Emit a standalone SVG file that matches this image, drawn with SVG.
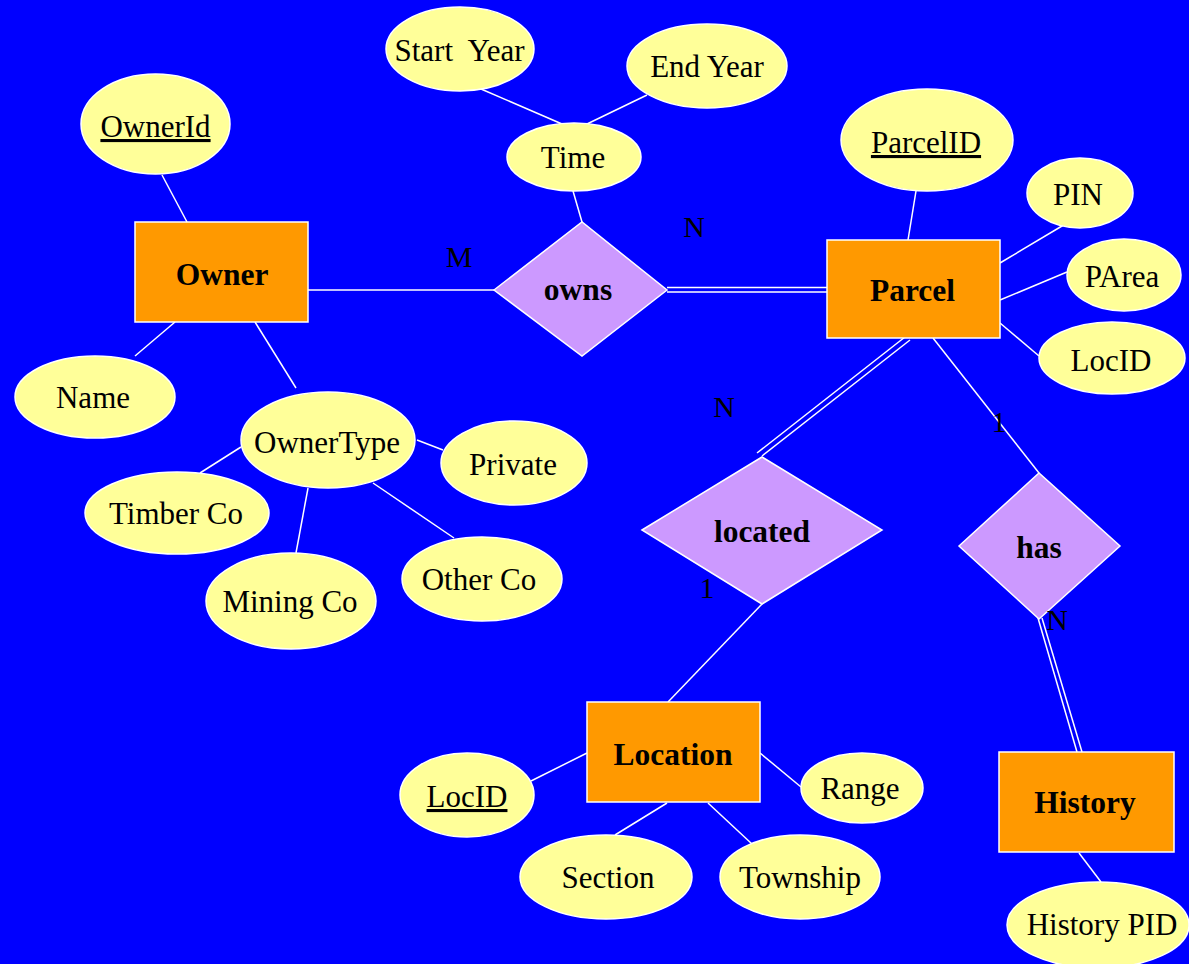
<svg xmlns="http://www.w3.org/2000/svg" width="1189" height="964" viewBox="0 0 1189 964">
<style>
.bg{fill:#0000FF}
.attr{fill:#FFFF99;stroke:#FFFFFF;stroke-width:1.5}
.ent{fill:#FF9900;stroke:#FFFFFF;stroke-width:1.5}
.rel{fill:#CC99FF;stroke:#FFFFFF;stroke-width:1.5}
.ln{stroke:#FFFFFF;stroke-width:1.5;fill:none}
text{font-family:"Liberation Serif","Times New Roman",serif;fill:#000000;text-anchor:middle}
.t{font-size:31px}
.b{font-size:31.5px;font-weight:bold}
.card{font-size:30px}
.u{text-decoration:underline}
</style>
<rect class="bg" x="0" y="0" width="1189" height="964"/>
<g id="connectors">
<line class="ln" x1="162" y1="175" x2="187" y2="222"/>
<line class="ln" x1="308" y1="290" x2="494" y2="290"/>
<line class="ln" x1="481" y1="89" x2="562" y2="124"/>
<line class="ln" x1="647" y1="95" x2="587" y2="124"/>
<line class="ln" x1="573" y1="191" x2="582" y2="222"/>
<line class="ln" x1="667" y1="287.5" x2="827" y2="287.5"/>
<line class="ln" x1="667" y1="292" x2="827" y2="292"/>
<line class="ln" x1="916" y1="191" x2="908" y2="240"/>
<line class="ln" x1="1067" y1="223" x2="1000" y2="263"/>
<line class="ln" x1="1067" y1="272" x2="1000" y2="300"/>
<line class="ln" x1="1000" y1="323" x2="1039" y2="356"/>
<line class="ln" x1="905" y1="337" x2="757" y2="453"/>
<line class="ln" x1="910" y1="340" x2="762" y2="456"/>
<line class="ln" x1="933" y1="338" x2="1039" y2="473"/>
<line class="ln" x1="762" y1="604" x2="668" y2="702"/>
<line class="ln" x1="1038" y1="618" x2="1077" y2="752"/>
<line class="ln" x1="1042" y1="618" x2="1082" y2="752"/>
<line class="ln" x1="1079" y1="853" x2="1101" y2="882"/>
<line class="ln" x1="531" y1="781" x2="587" y2="753"/>
<line class="ln" x1="760" y1="753" x2="801" y2="787"/>
<line class="ln" x1="667" y1="803" x2="615" y2="835"/>
<line class="ln" x1="708" y1="803" x2="752" y2="844"/>
<line class="ln" x1="175" y1="322" x2="135" y2="356"/>
<line class="ln" x1="255" y1="322" x2="296" y2="388"/>
<line class="ln" x1="200" y1="473" x2="241" y2="447"/>
<line class="ln" x1="417" y1="440" x2="443" y2="450"/>
<line class="ln" x1="308" y1="488" x2="296" y2="553"/>
<line class="ln" x1="373" y1="483" x2="454" y2="538"/>
</g>
<g id="owner"><rect class="ent" x="135" y="222" width="173" height="100"/><text class="b" x="222" y="285">Owner</text></g>
<g id="ownerid"><ellipse class="attr" cx="155.5" cy="124" rx="74.5" ry="50"/><text class="t u" x="155.5" y="137">OwnerId</text></g>
<g id="name"><ellipse class="attr" cx="95" cy="397" rx="80" ry="41"/><text class="t" x="93" y="408">Name</text></g>
<g id="ownertype"><ellipse class="attr" cx="328" cy="440" rx="87" ry="48"/><text class="t" x="327" y="453">OwnerType</text></g>
<g id="timberco"><ellipse class="attr" cx="177" cy="513" rx="92" ry="41"/><text class="t" x="176" y="524">Timber Co</text></g>
<g id="miningco"><ellipse class="attr" cx="291" cy="601" rx="85" ry="48"/><text class="t" x="290" y="612">Mining Co</text></g>
<g id="otherco"><ellipse class="attr" cx="482" cy="579" rx="80" ry="42"/><text class="t" x="479" y="590">Other Co</text></g>
<g id="private"><ellipse class="attr" cx="514" cy="463" rx="73" ry="42"/><text class="t" x="513" y="475">Private</text></g>
<g id="startyear"><ellipse class="attr" cx="460" cy="49" rx="74" ry="42"/><text class="t" x="459.5" y="61" xml:space="preserve">Start  Year</text></g>
<g id="endyear"><ellipse class="attr" cx="707" cy="66" rx="80" ry="42"/><text class="t" x="707" y="77">End Year</text></g>
<g id="time"><ellipse class="attr" cx="574" cy="157" rx="67" ry="34"/><text class="t" x="573" y="168">Time</text></g>
<g id="owns"><polygon class="rel" points="494,290 582,222 667,290 582,356"/><text class="b" x="578" y="300">owns</text></g>
<g id="parcel"><rect class="ent" x="827" y="240" width="173" height="98"/><text class="b" x="912.5" y="301">Parcel</text></g>
<g id="parcelid"><ellipse class="attr" cx="927" cy="140" rx="86" ry="51"/><text class="t u" x="926" y="153">ParcelID</text></g>
<g id="pin"><ellipse class="attr" cx="1080" cy="193" rx="53" ry="35"/><text class="t" x="1078" y="205">PIN</text></g>
<g id="parea"><ellipse class="attr" cx="1124" cy="275" rx="57" ry="36"/><text class="t" x="1122" y="287">PArea</text></g>
<g id="parcel-locid"><ellipse class="attr" cx="1112" cy="358" rx="73" ry="36"/><text class="t" x="1111" y="371">LocID</text></g>
<g id="located"><polygon class="rel" points="642,530 762,457 882,530 762,604"/><text class="b" x="762" y="542">located</text></g>
<g id="has"><polygon class="rel" points="959,546 1039,473 1120,546 1039,619"/><text class="b" x="1039" y="558">has</text></g>
<g id="location"><rect class="ent" x="587" y="702" width="173" height="100"/><text class="b" x="673" y="765">Location</text></g>
<g id="location-locid"><ellipse class="attr" cx="467" cy="795" rx="67" ry="42"/><text class="t u" x="467" y="807">LocID</text></g>
<g id="range"><ellipse class="attr" cx="862" cy="788" rx="61" ry="35"/><text class="t" x="860" y="799">Range</text></g>
<g id="section"><ellipse class="attr" cx="606" cy="877" rx="86" ry="42"/><text class="t" x="608" y="888">Section</text></g>
<g id="township"><ellipse class="attr" cx="800" cy="877" rx="80" ry="42"/><text class="t" x="800" y="888">Township</text></g>
<g id="history"><rect class="ent" x="999" y="752" width="175" height="100"/><text class="b" x="1085" y="813">History</text></g>
<g id="historypid"><ellipse class="attr" cx="1098" cy="925" rx="91" ry="43"/><text class="t" x="1102" y="935">History PID</text></g>
<g id="labels">
<text class="card" x="459" y="267">M</text>
<text class="card" x="694" y="237">N</text>
<text class="card" x="724" y="417">N</text>
<text class="card" x="707" y="598">1</text>
<text class="card" x="999" y="432">1</text>
<text class="card" x="1057" y="630">N</text>
</g>
</svg>
